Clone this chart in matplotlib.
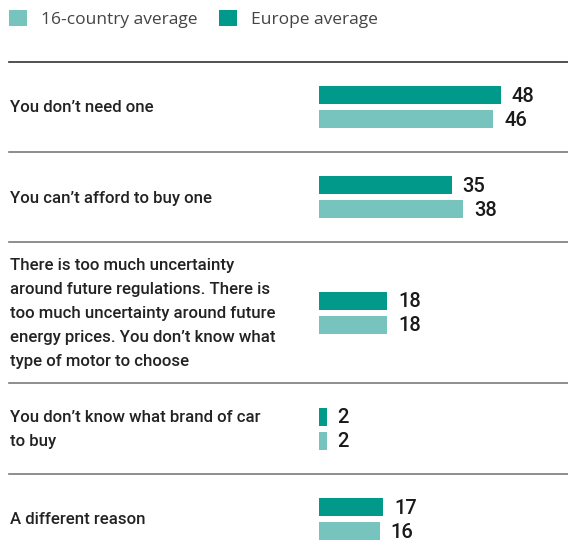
import numpy as np
from matplotlib import pyplot as plt

# data
categories = [
    "You don\u2019t need one",
    "You can\u2019t afford to buy one",
    "There is too much uncertainty\naround future regulations. There is\ntoo much uncertainty around future\nenergy prices. You don\u2019t know what\ntype of motor to choose",
    "You don\u2019t know what brand of car\nto buy",
    "A different reason",
]
europe = [48, 35, 18, 2, 17]
country16 = [46, 38, 18, 2, 16]
series_names = ["16-country average", "Europe average"]

# styles / layout (pixels)
dark = "#00998A"
light = "#77C4BE"
W, H = 568, 560
px = 3.79          # pixels per percentage point
x0 = 319           # where bars start
seps = [62, 152, 242, 383, 474]
bar_h = 18
off = 12

plt.rcParams['font.family'] = ["Roboto", "DejaVu Sans"]

fig = plt.figure(figsize=(W / 100, H / 100), dpi=100)
ax = fig.add_axes([0, 0, 1, 1])
ax.set_xlim(-x0 / px, (W - x0) / px)
ax.set_ylim(H, 0)
ax.axis('off')

centers = [(seps[i] + seps[i + 1]) / 2 for i in range(len(seps) - 1)]
centers.append(seps[-1] + 45)
centers = np.array(centers)

b_eu = ax.barh(centers - off, europe, height=bar_h, color=dark, label=series_names[1])
b_16 = ax.barh(centers + off, country16, height=bar_h, color=light, label=series_names[0])

for i, y in enumerate(seps):
    ax.axhline(y, xmin=9 / W, xmax=1, color="#333333" if i == 0 else "#7a7a7a", lw=1.2)

tr = ax.get_yaxis_transform()
for c, lab in zip(centers, categories):
    ax.text(10 / W, c + 1, lab, transform=tr, va='center', ha='left',
            fontsize=12.1, color="#222222", linespacing=1.76, fontweight='medium')

for c, v in zip(centers, europe):
    ax.text(v + 11 / px, c - off + 1, str(v), va='center', ha='left',
            fontsize=14.5, color="#1a1a1a", fontweight='medium')
for c, v in zip(centers, country16):
    ax.text(v + 11 / px, c + off + 1, str(v), va='center', ha='left',
            fontsize=14.5, color="#1a1a1a", fontweight='medium')

leg = fig.legend(handles=[b_16, b_eu], labels=series_names, ncol=2,
                 loc='upper left', bbox_to_anchor=(9 / W, 1 - 10 / H),
                 frameon=False, handlelength=1.03, handleheight=1.03,
                 handletextpad=0.8, columnspacing=1.26, borderaxespad=0,
                 borderpad=0,
                 prop={'size': 12.5, 'family': ["Open Sans", "DejaVu Sans"]})
for t in leg.get_texts():
    t.set_color("#444444")

fig.savefig("out.png", dpi=100)
